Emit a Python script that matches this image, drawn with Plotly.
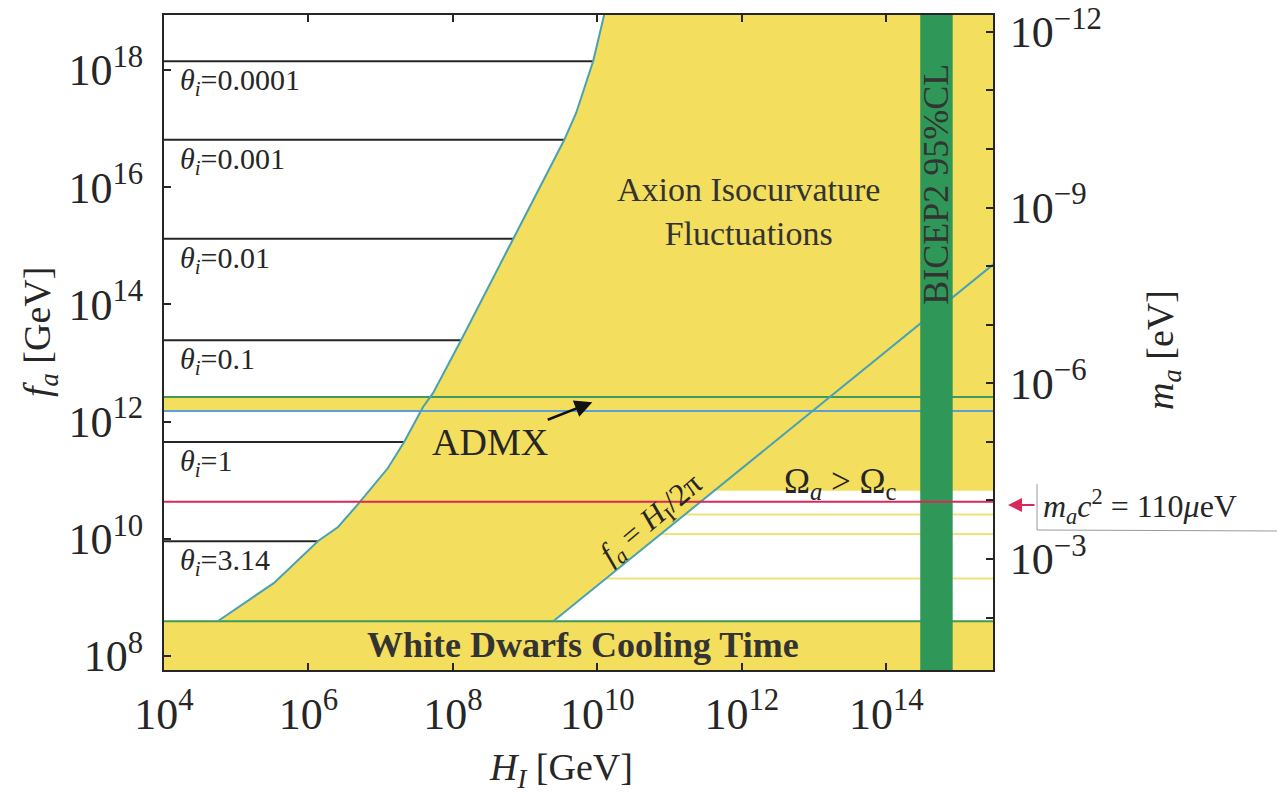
import numpy as np
import plotly.graph_objects as go

# ---------------- data (GeV / eV) ----------------
# left boundary of the "Axion Isocurvature Fluctuations" region
boundary_H = [5.6e4, 3.34e5, 1.36e6, 2.57e6, 5.02e6, 1.26e7, 2.11e7, 3.86e7,
              5.32e7, 1.30e8, 6.82e8, 1.29e9, 3.47e9, 5.08e9, 8.75e9, 1.24e10]
boundary_fa = [3.95e8, 1.76e9, 9.16e9, 1.59e10, 4.08e10, 1.61e11, 4.49e11, 1.77e12,
               3.08e12, 2.47e13, 1.31e15, 6.05e15, 6.38e16, 1.85e17, 1.43e18, 8.7e18]
# theta_i contours
theta_labels = ["0.0001", "0.001", "0.01", "0.1", "1", "3.14"]
theta_fa = [1.41e18, 6.46e16, 1.32e15, 2.45e13, 4.47e11, 9.1e9]
# other limits
wd_fa = 3.9e8                 # white dwarfs cooling time
admx_fa = [1.52e12, 2.63e12]  # ADMX exclusion band
omega_fa = 6.6e10             # Omega_a > Omega_c boundary (for H_I > 2 pi f_a)
red_fa = 4.3e10               # m_a c^2 = 110 micro-eV
yellow_fa = [2.6e10, 1.2e10, 2.1e9]
bicep_H = [2.95e14, 8.3e14]   # BICEP2 95% CL band
ma_fa_const = 4.5e6           # m_a [eV] * f_a [GeV]
H_range = [1e4, 3.0e15]
fa_range = [5.75e7, 8.7e18]
x_tick_exp = [4, 6, 8, 10, 12, 14]
y_tick_exp = [8, 10, 12, 14, 16, 18]
ma_tick_exp = list(range(-12, -1))
ma_label_exp = [-12, -9, -6, -3]

# ---------------- colours / style ----------------
YELLOW = "#f3de5e"
GREEN = "#3f9a5c"
BAND = "#2f9858"
TEAL = "#48a2b4"
BLUE = "#5aa0d8"
RED = "#d8285a"
LYEL = "#f2e27a"
INK = "#262626"
FONT = "Liberation Serif"

L, R, T, B = 164, 993, 15, 670
W, H = 1277, 799


def P(x, y):
    return (x - L) / (R - L), (B - y) / (B - T)


lx = np.log10(H_range)
ly = np.log10(fa_range)
TWO_PI = 2 * np.pi
Hfar = 10 ** (lx[1] + 1)
Hnear = 10 ** (lx[0] - 0.2)
ftop = 10 ** (ly[1] + 0.3)

fig = go.Figure()


def poly(xs, ys, color):
    fig.add_trace(go.Scatter(x=xs, y=ys, fill="toself", fillcolor=color, mode="lines",
                             line=dict(width=0, color=color), hoverinfo="skip", showlegend=False))


def line(xs, ys, color, width=2):
    fig.add_trace(go.Scatter(x=xs, y=ys, mode="lines", line=dict(color=color, width=width),
                             hoverinfo="skip", showlegend=False))


# white allowed region on the left (small theta_i)
poly([Hnear, boundary_H[0]] + boundary_H + [boundary_H[-1], Hnear],
     [wd_fa, wd_fa] + boundary_fa + [ftop, ftop], "white")
# white allowed region on the lower right (H_I > 2 pi f_a)
poly([TWO_PI * wd_fa, TWO_PI * omega_fa, Hfar, Hfar],
     [wd_fa, omega_fa, omega_fa, wd_fa], "white")
# ADMX band
poly([Hnear, Hfar, Hfar, Hnear], [admx_fa[0], admx_fa[0], admx_fa[1], admx_fa[1]], YELLOW)

# yellow lines in lower-right allowed region
for f in yellow_fa:
    line([TWO_PI * f, Hfar], [f, f], LYEL, 2)

# theta_i contours
theta_end = 10 ** np.interp(np.log10(theta_fa), np.log10(boundary_fa), np.log10(boundary_H))
for f, he in zip(theta_fa, theta_end):
    line([Hnear, he], [f, f], INK, 2)

# limits lines
line([Hnear, Hfar], [wd_fa, wd_fa], GREEN, 2)
line([Hnear, Hfar], [admx_fa[1], admx_fa[1]], GREEN, 2)
line([Hnear, Hfar], [admx_fa[0], admx_fa[0]], BLUE, 2)
line(boundary_H, boundary_fa, TEAL, 2)
line([TWO_PI * wd_fa, Hfar], [wd_fa, Hfar / TWO_PI], TEAL, 2)

# BICEP2 band
poly([bicep_H[0], bicep_H[1], bicep_H[1], bicep_H[0]],
     [10 ** (ly[0] - 1), 10 ** (ly[0] - 1), ftop, ftop], BAND)

# 110 micro-eV line
line([Hnear, Hfar], [red_fa, red_fa], RED, 2)

# dummy trace for the right axis
fig.add_trace(go.Scatter(x=[H_range[0]], y=[ma_fa_const / fa_range[0]], yaxis="y2",
                         mode="markers", marker=dict(opacity=0), hoverinfo="skip", showlegend=False))

ann = []


def text(x, y, t, size, ref="data", color=INK, **kw):
    d = dict(x=x, y=y, text=t, showarrow=False, xanchor="center", yanchor="middle",
             font=dict(family=FONT, size=size, color=color))
    if ref == "paper":
        d.update(xref="paper", yref="paper")
    else:
        d.update(xref="x", yref="y")
    d.update(kw)
    ann.append(d)


# theta labels
for lab, f in zip(theta_labels, theta_fa):
    text(lx[0] + 0.19, np.log10(f) - 0.36, f"<i>θ<sub>i</sub></i>={lab}", 30, xanchor="left")

text(12.09, 15.58, "Axion Isocurvature<br>Fluctuations", 34, color="#333", align="center")
ann.append(dict(x=9.93, y=12.33, xref="x", yref="y", text="ADMX", showarrow=True,
                ax=-102, ay=40, arrowhead=2, arrowsize=1.4, arrowwidth=2.5, arrowcolor="#111",
                font=dict(family=FONT, size=38, color=INK)))
text(13.36, 10.95, "Ω<sub><i>a</i></sub> &gt; Ω<sub>c</sub>", 35)
text(10.76, 10.32, "<i>f<sub>a</sub></i> = <i>H</i><sub>I</sub>/2π", 31, textangle=-40)
text(9.80, np.log10(wd_fa) - 0.4, "<b>White Dwarfs Cooling Time</b>", 36, color="#333")
text(np.log10(np.sqrt(bicep_H[0] * bicep_H[1])), 16.05, "BICEP2 95%CL", 36,
     color="#333", textangle=-90)

# axis titles
px_, py_ = P(561, 770)
text(px_, py_, "<i>H<sub>I</sub></i> [GeV]", 38, ref="paper")
px_, py_ = P(40, 332)
text(px_, py_, "<i>f<sub>a</sub></i> [GeV]", 38, ref="paper", textangle=-90)
px_, py_ = P(1163, 350)
text(px_, py_, "<i>m<sub>a</sub></i> [eV]", 38, ref="paper", textangle=-90)

# m_a c^2 = 110 micro-eV label
px_, py_ = P(1008, 505)
ann.append(dict(x=px_, y=py_, xref="paper", yref="paper", text="", showarrow=True,
                ax=28, ay=0, arrowhead=2, arrowsize=1.4, arrowwidth=2, arrowcolor=RED))
px_, py_ = P(1041, 506)
text(px_, py_, "<i>m<sub>a</sub>c</i><sup>2</sup> = 110<i>μ</i>eV", 32, ref="paper",
     xanchor="left")

shapes = []
x0, y0 = P(1037, 484)
x1, y1 = P(1037, 530)
shapes.append(dict(type="line", xref="paper", yref="paper", x0=x0, y0=y0, x1=x1, y1=y1,
                   line=dict(color="#9a9a9a", width=1)))
x2, y2 = P(1277, 531)
shapes.append(dict(type="line", xref="paper", yref="paper", x0=x1, y0=y1, x1=x2, y1=y2,
                   line=dict(color="#9a9a9a", width=1)))

tickfont = dict(family=FONT, size=44, color=INK)
common = dict(showgrid=False, zeroline=False, ticks="inside", ticklen=7, tickwidth=2,
              tickcolor=INK, showline=True, linecolor=INK, linewidth=2, tickfont=tickfont,
              ticklabeloverflow="allow", automargin=False)
fig.update_layout(
    width=W, height=H,
    margin=dict(l=L, r=W - R, t=T, b=H - B, autoexpand=False),
    paper_bgcolor="white", plot_bgcolor=YELLOW,
    showlegend=False,
    annotations=ann, shapes=shapes,
    xaxis=dict(type="log", range=list(lx),
               tickvals=[10 ** e for e in x_tick_exp],
               ticktext=[f"10<sup>{e}</sup>" for e in x_tick_exp],
               mirror="ticks", ticklabelstandoff=4, **common),
    yaxis=dict(type="log", range=list(ly),
               tickvals=[10 ** e for e in y_tick_exp],
               ticktext=[f"10<sup>{e}</sup>" for e in y_tick_exp],
               ticklabelstandoff=10, **common),
    yaxis2=dict(type="log", overlaying="y", side="right",
                range=[np.log10(ma_fa_const) - ly[0], np.log10(ma_fa_const) - ly[1]],
                tickvals=[10.0 ** e for e in ma_tick_exp],
                ticktext=[f"10<sup>−{-e}</sup>" if e in ma_label_exp else "" for e in ma_tick_exp],
                ticklabelstandoff=6, **common),
)

fig.write_html("out.html")
